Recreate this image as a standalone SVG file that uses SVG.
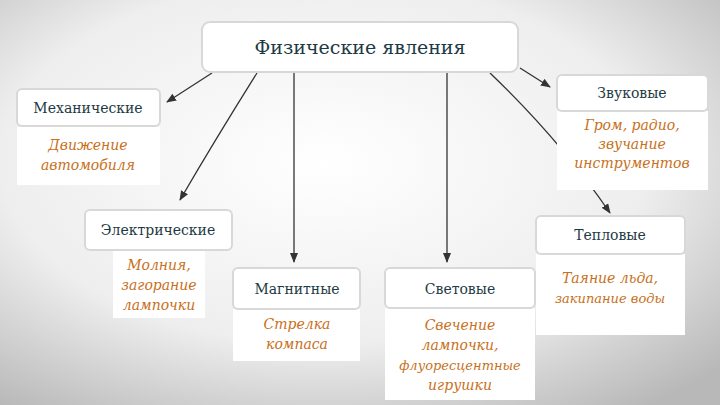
<svg xmlns="http://www.w3.org/2000/svg" width="720" height="405" viewBox="0 0 720 405">
<defs>
<radialGradient id="bg" cx="0.45" cy="0.4" r="0.75">
<stop offset="0" stop-color="#ffffff"/><stop offset="0.6" stop-color="#eeeeee"/><stop offset="1" stop-color="#b8b8b8"/>
</radialGradient>
<marker id="ah" markerWidth="10" markerHeight="8" refX="9" refY="4" orient="auto" markerUnits="userSpaceOnUse">
<path d="M0,0 L10,4 L0,8 Z" fill="#333"/>
</marker>
<style>
.hd{fill:#fff;stroke:#d8d8d8;stroke-width:2}
.bd{fill:#fff}
.h{font-family:"DejaVu Serif","Liberation Serif",serif;font-size:14px;fill:#1e3a44;text-anchor:middle}
.b{font-family:"DejaVu Serif","Liberation Serif",serif;font-style:italic;font-size:14px;fill:#c8701a;text-anchor:middle}
.c{fill:none;stroke:#333;stroke-width:1.3;marker-end:url(#ah)}
</style>
</defs>
<rect width="720" height="405" fill="url(#bg)"/>
<g id="connectors">
<path class="c" d="M212,73 L167,102"/>
<path class="c" d="M257,73 Q215,140 180,200"/>
<path class="c" d="M294,73 L294,262"/>
<path class="c" d="M447,73 L447,262"/>
<path class="c" d="M520,68 L550,87"/>
<path class="c" d="M490,73 Q560,140 610,213"/>
</g>
<g id="root"><rect class="hd" x="202" y="22" width="316" height="50" rx="8"/><text class="h" x="360" y="54" style="font-size:19px">Физические явления</text></g>
<g id="mech"><rect class="bd" x="17" y="127" width="143" height="58"/><rect class="hd" x="17" y="89" width="143" height="37" rx="5"/><text class="h" x="88" y="113">Механические</text><text class="b" x="88" y="150">Движение</text><text class="b" x="88" y="170">автомобиля</text></g>
<g id="sound"><rect class="bd" x="557" y="111" width="151" height="79"/><rect class="hd" x="557" y="75" width="151" height="36" rx="5"/><text class="h" x="632" y="98">Звуковые</text><text class="b" x="632" y="130">Гром, радио,</text><text class="b" x="632" y="149">звучание</text><text class="b" x="632" y="168">инструментов</text></g>
<g id="elec"><rect class="bd" x="113" y="250" width="92" height="68"/><rect class="hd" x="85" y="210" width="147" height="40" rx="5"/><text class="h" x="158" y="235">Электрические</text><text class="b" x="159" y="270">Молния,</text><text class="b" x="159" y="290">загорание</text><text class="b" x="159" y="310">лампочки</text></g>
<g id="magn"><rect class="bd" x="233" y="309" width="127" height="52"/><rect class="hd" x="233" y="268" width="127" height="41" rx="5"/><text class="h" x="297" y="294">Магнитные</text><text class="b" x="297" y="329">Стрелка</text><text class="b" x="297" y="349">компаса</text></g>
<g id="light"><rect class="bd" x="385" y="308" width="150" height="92"/><rect class="hd" x="385" y="268" width="150" height="40" rx="5"/><text class="h" x="460" y="294">Световые</text><text class="b" x="460" y="330">Свечение</text><text class="b" x="460" y="350">лампочки,</text><text class="b" x="460" y="370" style="font-size:13px">флуоресцентные</text><text class="b" x="460" y="390">игрушки</text></g>
<g id="heat"><rect class="bd" x="536" y="254" width="149" height="81"/><rect class="hd" x="536" y="216" width="149" height="38" rx="5"/><text class="h" x="610" y="240">Тепловые</text><text class="b" x="610" y="283">Таяние льда,</text><text class="b" x="610" y="303" style="font-size:13px">закипание воды</text></g>
</svg>
